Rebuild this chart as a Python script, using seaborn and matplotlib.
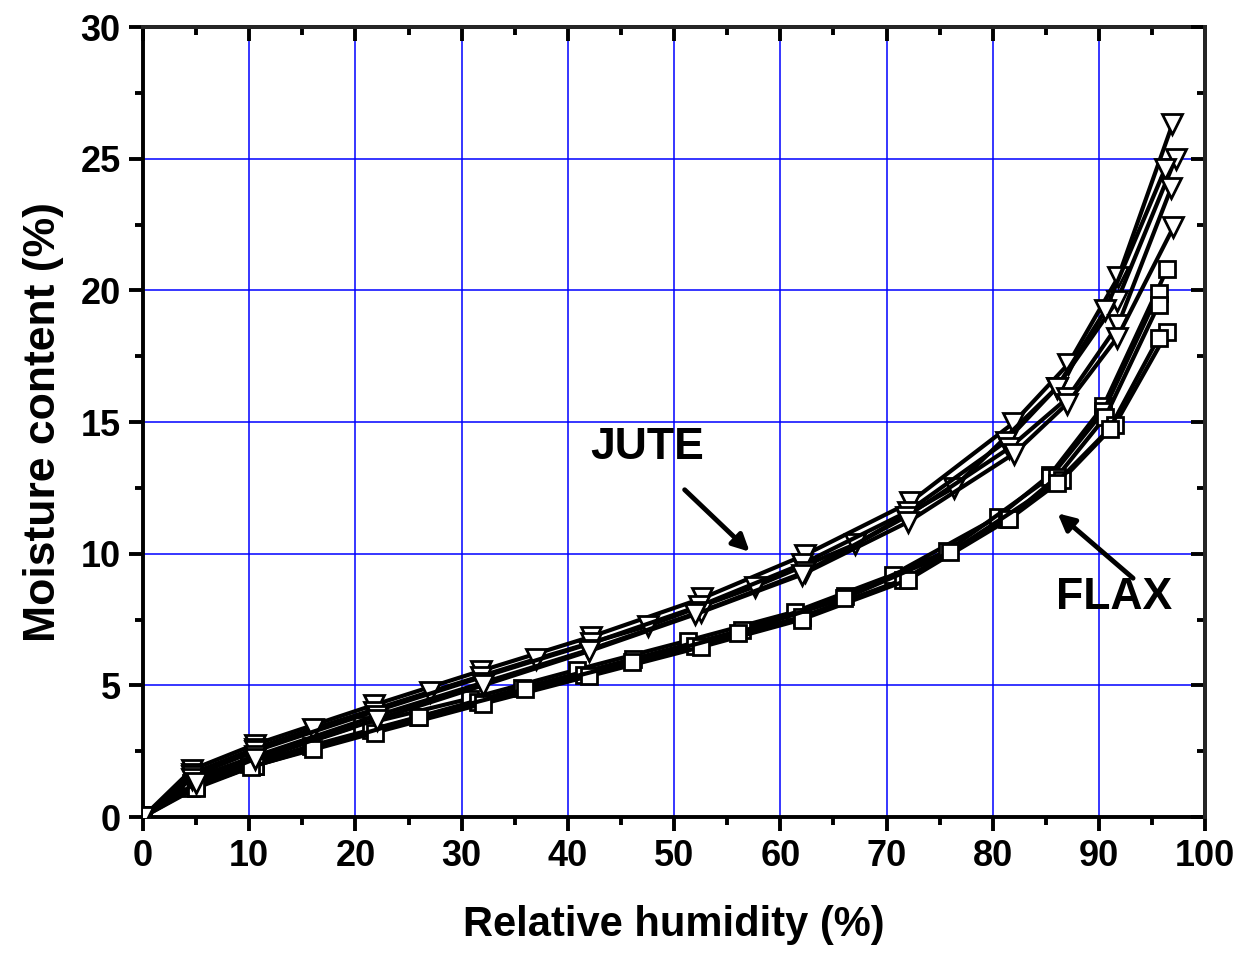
import matplotlib
matplotlib.use("Agg")
import matplotlib.pyplot as plt
import seaborn as sns
import pandas as pd

# ---- data ----
jute_rh = [
    [0, 4.6, 10.5, 21.7, 31.8, 42.2, 52.6, 62.3, 72.2, 81.9, 87.1, 91.8, 96.9],
    [0, 4.6, 10.5, 16.0, 27.0, 37.0, 47.5, 57.6, 67.0, 76.3, 86.0, 91.7, 97.2],
    [0, 4.6, 10.5, 21.7, 31.8, 42.2, 52.3, 62.0, 72.0, 81.2, 86.0, 90.6, 96.2],
    [0, 4.6, 10.5, 22.0, 32.0, 42.0, 52.5, 62.3, 71.8, 81.5, 87.0, 91.8, 96.8],
    [0, 5.0, 10.5, 22.0, 32.0, 42.0, 52.0, 62.0, 72.0, 82.0, 87.0, 91.7, 97.0],
]
jute_mc = [
    [0, 1.80, 2.75, 4.25, 5.55, 6.85, 8.30, 9.95, 11.95, 14.95, 17.2, 20.5, 26.3],
    [0, 1.65, 2.60, 3.35, 4.75, 6.00, 7.25, 8.75, 10.35, 12.50, 16.3, 19.6, 25.0],
    [0, 1.55, 2.50, 4.00, 5.30, 6.60, 8.00, 9.60, 11.60, 14.25, 16.3, 19.25, 24.6],
    [0, 1.45, 2.30, 3.85, 5.10, 6.35, 7.80, 9.30, 11.40, 14.00, 15.9, 18.7, 23.9],
    [0, 1.30, 2.20, 3.70, 5.00, 6.30, 7.70, 9.20, 11.20, 13.80, 15.7, 18.2, 22.4],
]
flax_rh = [
    [0, 4.5, 10.0, 20.6, 30.8, 40.9, 51.3, 61.4, 70.6, 80.5, 85.4, 90.4, 96.4],
    [0, 4.5, 10.0, 15.8, 25.9, 35.7, 46.1, 56.4, 66.1, 75.7, 85.4, 90.4, 95.6],
    [0, 4.5, 10.5, 21.5, 31.5, 41.5, 52.0, 62.0, 71.5, 81.3, 86.0, 90.6, 95.6],
    [0, 5.0, 10.5, 21.8, 32.0, 42.0, 52.5, 62.0, 72.0, 81.5, 86.5, 91.5, 96.4],
    [0, 5.0, 10.2, 16.0, 26.0, 36.0, 46.0, 56.0, 66.0, 76.0, 86.0, 91.0, 95.6],
]
flax_mc = [
    [0, 1.30, 2.10, 3.50, 4.50, 5.60, 6.70, 7.80, 9.20, 11.40, 13.0, 15.6, 20.8],
    [0, 1.20, 2.00, 2.70, 3.80, 4.90, 6.00, 7.10, 8.40, 10.10, 12.9, 15.4, 19.9],
    [0, 1.10, 1.95, 3.30, 4.35, 5.40, 6.50, 7.60, 9.00, 11.30, 12.9, 15.2, 19.45],
    [0, 1.15, 1.95, 3.20, 4.30, 5.35, 6.45, 7.50, 9.00, 11.30, 12.8, 14.9, 18.4],
    [0, 1.10, 1.90, 2.60, 3.80, 4.85, 5.90, 7.00, 8.30, 10.05, 12.7, 14.75, 18.2],
]
x_ticks = [0, 10, 20, 30, 40, 50, 60, 70, 80, 90, 100]
y_ticks = [0, 5, 10, 15, 20, 25, 30]
x_minor = [5, 15, 25, 35, 45, 55, 65, 75, 85, 95]
y_minor = [2.5, 7.5, 12.5, 17.5, 22.5, 27.5]
x_label = "Relative humidity (%)"
y_label = "Moisture content (%)"

sns.set_theme(style="white")
plt.rcParams['font.family'] = ['Liberation Sans', 'DejaVu Sans']
plt.rcParams['font.weight'] = 'bold'
plt.rcParams['text.color'] = 'black'
plt.rcParams['axes.labelcolor'] = 'black'
plt.rcParams['xtick.color'] = 'black'
plt.rcParams['ytick.color'] = 'black'

fig = plt.figure(figsize=(12.49, 9.55), dpi=100)
ax = fig.add_axes([0.1145, 0.1445, 0.8505, 0.8272])

ax.grid(True, which='major', color='#0000ff', linewidth=1.1, zorder=0)
ax.set_axisbelow(True)

for rh, mc in zip(flax_rh, flax_mc):
    sns.lineplot(x=rh, y=mc, ax=ax, sort=False, estimator=None, color='black',
                 linewidth=3.0, marker='s', markersize=11, markerfacecolor='white',
                 markeredgecolor='black', markeredgewidth=2.0, zorder=3)
for rh, mc in zip(jute_rh, jute_mc):
    sns.lineplot(x=rh, y=mc, ax=ax, sort=False, estimator=None, color='black',
                 linewidth=3.0, marker='v', markersize=14, markerfacecolor='white',
                 markeredgecolor='black', markeredgewidth=2.0, zorder=3)

ax.set_xlim(0, 100)
ax.set_ylim(0, 30)
ax.set_xticks(x_ticks)
ax.set_yticks(y_ticks)
ax.set_xticks(x_minor, minor=True)
ax.set_yticks(y_minor, minor=True)
ax.set_xticklabels([str(v) for v in x_ticks], fontsize=26, fontweight='bold', color='black')
ax.set_yticklabels([str(v) for v in y_ticks], fontsize=26, fontweight='bold', color='black')

for s in ax.spines.values():
    s.set_linewidth(2.8)
    s.set_color('black')

ax.tick_params(axis='both', which='major', direction='out', length=10, width=2.8,
               color='black', bottom=True, left=True, pad=6)
ax.tick_params(axis='both', which='minor', direction='out', length=6, width=2.8,
               color='black', bottom=True, left=True)
# inward ticks on top/right
ax2 = ax.secondary_xaxis('top')
ax2.set_xticks(x_ticks)
ax2.set_xticks(x_minor, minor=True)
ax2.tick_params(which='major', direction='in', length=10, width=2.8, labeltop=False, color='black')
ax2.tick_params(which='minor', direction='in', length=6, width=2.8, color='black')
ax2.spines['top'].set_linewidth(2.8)
ax2.set_zorder(10)
ax3 = ax.secondary_yaxis('right')
ax3.set_yticks(y_ticks)
ax3.set_yticks(y_minor, minor=True)
ax3.tick_params(which='major', direction='in', length=10, width=2.8, labelright=False, color='black')
ax3.tick_params(which='minor', direction='in', length=6, width=2.8, color='black')
ax3.spines['right'].set_linewidth(2.8)
ax3.set_zorder(10)

ax.set_xlabel(x_label, fontsize=30, fontweight='bold', labelpad=22, color='black')
ax.set_ylabel(y_label, fontsize=32, fontweight='bold', labelpad=12, color='black')

ax.annotate('', xy=(57.3, 10.0), xytext=(50.8, 12.5),
            arrowprops=dict(arrowstyle='-|>', color='black', lw=3.5, mutation_scale=25), zorder=5)
ax.annotate('', xy=(85.9, 11.6), xytext=(93.4, 9.0),
            arrowprops=dict(arrowstyle='-|>', color='black', lw=3.5, mutation_scale=25), zorder=5)
ax.text(47.5, 14.05, 'JUTE', fontsize=32, fontweight='bold', ha='center', va='center',
        color='black', zorder=6)
ax.text(91.4, 8.35, 'FLAX', fontsize=32, fontweight='bold', ha='center', va='center',
        color='black', zorder=6)

fig.savefig('out.png', dpi=100)
